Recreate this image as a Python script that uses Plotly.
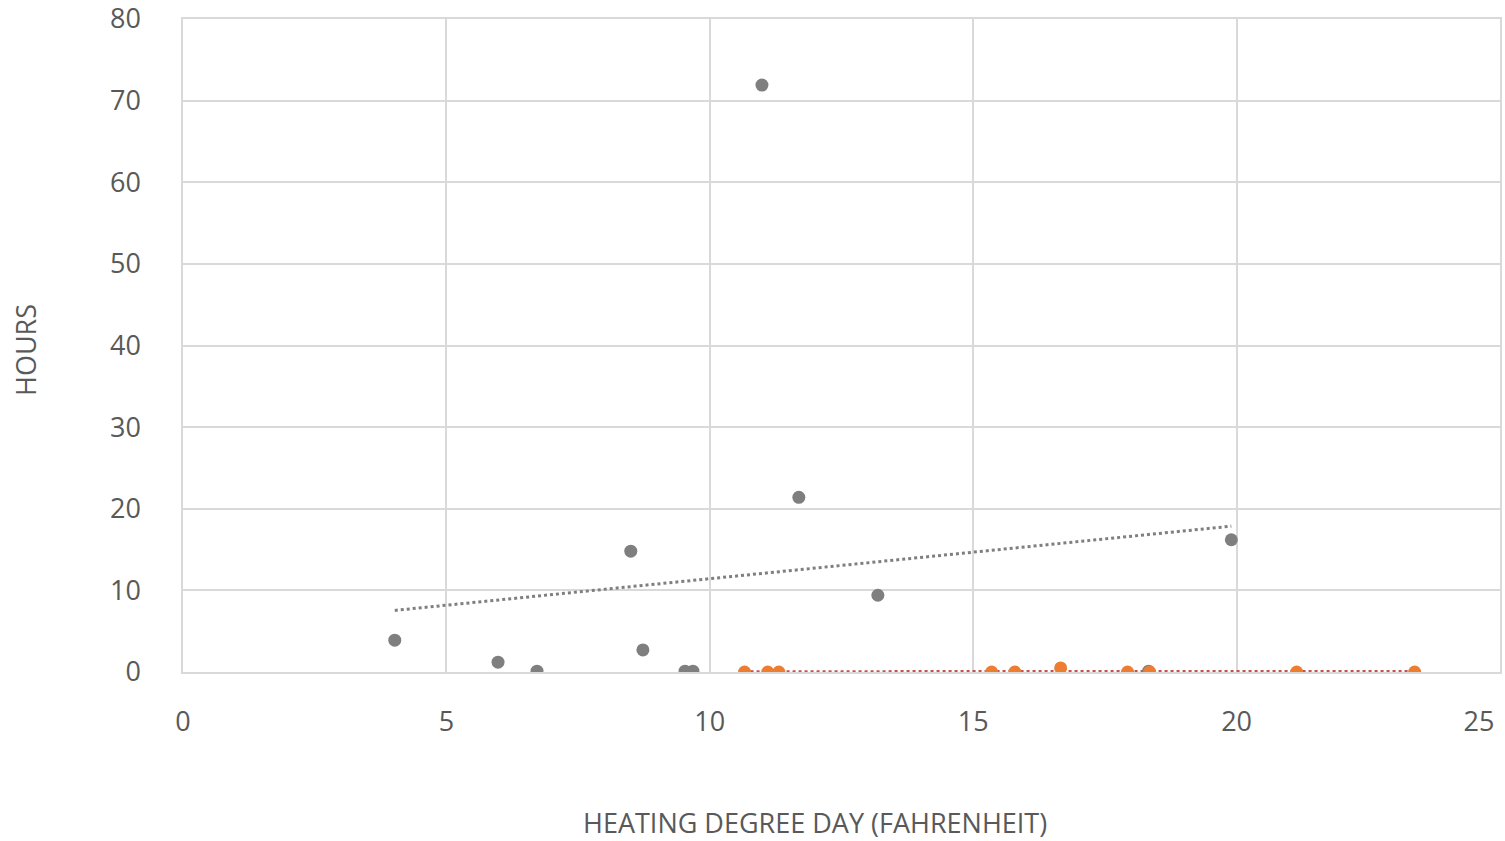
import numpy as np
import plotly.graph_objects as go

# Gray series
gray_x = [4.02, 5.98, 6.72, 8.50, 8.73, 9.53, 9.68, 10.99, 11.69, 13.19, 18.33, 19.90]
gray_y = [3.9, 1.2, 0.1, 14.8, 2.7, 0.1, 0.1, 71.9, 21.4, 9.4, 0.1, 16.2]

# Orange series
orange_x = [10.66, 11.10, 11.31, 15.35, 15.79, 16.66, 17.93, 18.35, 21.14, 23.38]
orange_y = [0.0, 0.0, 0.0, 0.0, 0.0, 0.5, 0.0, 0.0, 0.0, 0.0]

x_ticks = [0, 5, 10, 15, 20, 25]
y_ticks = [0, 10, 20, 30, 40, 50, 60, 70, 80]

x_title = "HEATING DEGREE DAY (FAHRENHEIT)"
y_title = "HOURS"

GRAY = "#7f7f7f"
ORANGE = "#ed7d31"
TEXT = "#595959"
GRID = "#d9d9d9"
FONT = "Open Sans"
FS = 27
NB = "\u00a0"


def trend(xs, ys):
    xs = np.asarray(xs, float)
    ys = np.asarray(ys, float)
    m, b = np.polyfit(xs, ys, 1)
    tx = np.array([xs.min(), xs.max()])
    return tx, m * tx + b


fig = go.Figure()

gtx, gty = trend(gray_x, gray_y)
otx, oty = trend(orange_x, orange_y)

fig.add_trace(go.Scatter(x=gtx, y=gty, mode="lines",
                         line=dict(color=GRAY, width=3, dash="dot"),
                         showlegend=False, hoverinfo="skip"))
fig.add_trace(go.Scatter(x=otx, y=oty, mode="lines",
                         line=dict(color="#c9504d", width=3, dash="dot"),
                         showlegend=False, hoverinfo="skip"))
fig.add_trace(go.Scatter(x=gray_x, y=gray_y, mode="markers",
                         marker=dict(color=GRAY, size=13),
                         showlegend=False))
fig.add_trace(go.Scatter(x=orange_x, y=orange_y, mode="markers",
                         marker=dict(color=ORANGE, size=13),
                         showlegend=False))

fig.update_layout(
    width=1505, height=841,
    margin=dict(l=183, r=5, t=19, b=169, autoexpand=False),
    paper_bgcolor="white", plot_bgcolor="white",
    font=dict(family=FONT, color=TEXT, size=FS),
    showlegend=False,
)

x_text = [str(v) for v in x_ticks]
x_text[-1] = x_text[-1] + NB * 6

fig.update_xaxes(
    range=[0, 25], tickvals=x_ticks, ticktext=x_text,
    showgrid=True, gridcolor=GRID, gridwidth=1.5,
    showline=True, linecolor=GRID, linewidth=1.5, mirror=True,
    zeroline=False, ticks="", ticklabelstandoff=25,
    ticklabeloverflow="allow",
    tickfont=dict(family=FONT, size=FS, color=TEXT),
)
fig.update_yaxes(
    range=[0, 80], tickvals=y_ticks, ticktext=[str(v) for v in y_ticks],
    showgrid=True, gridcolor=GRID, gridwidth=1.5,
    showline=True, linecolor=GRID, linewidth=1.5, mirror=True,
    zeroline=False, ticks="", ticklabelstandoff=35,
    ticklabeloverflow="allow",
    tickfont=dict(family=FONT, size=FS, color=TEXT),
)

# plot area in page pixels: left 183, right 1500, top 19, bottom 672
PL, PR, PT, PB = 183, 1500, 19, 672
fig.add_annotation(text=x_title, xref="paper", yref="paper",
                   x=(815 - PL) / (PR - PL), y=-(822 - PB) / (PB - PT),
                   xanchor="center", yanchor="middle", showarrow=False,
                   font=dict(family=FONT, size=FS, color=TEXT))
fig.add_annotation(text=y_title, xref="paper", yref="paper",
                   x=-(PL - 25) / (PR - PL), y=(PB - 350) / (PB - PT),
                   xanchor="center", yanchor="middle", showarrow=False,
                   textangle=-90,
                   font=dict(family=FONT, size=FS, color=TEXT))

fig.write_html(
    "out.html",
    config={"displayModeBar": False},
    post_script="document.body.style.margin='0';document.body.style.overflow='hidden';",
)
